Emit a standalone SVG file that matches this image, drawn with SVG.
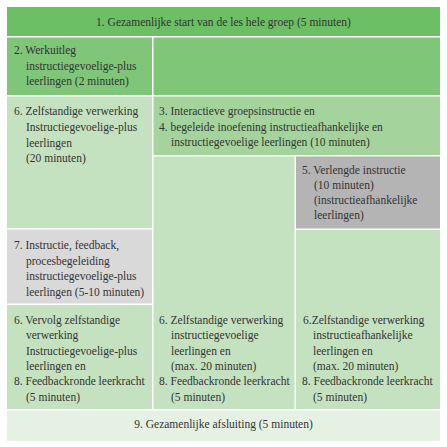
<svg xmlns="http://www.w3.org/2000/svg" width="447" height="447" viewBox="0 0 447 447">
<style>
text{font-family:"Liberation Serif","DejaVu Serif",serif;font-size:11.5px;fill:#333;}
.c{text-anchor:middle;}
.h{fill:#6cbf65;}
.g2{fill:#7fc679;}
.g3{fill:#a4d49c;}
.lt{fill:#c5e2c0;}
.gy5{fill:#b4b4b4;}
.gy7{fill:#d9d9da;}
.ft{fill:#e5f1e3;}
</style>
<rect width="447" height="447" fill="#fff"/>
<g id="n1"><rect class="h" x="7" y="7" width="433" height="29"/><text class="c" x="223.5" y="26">1. Gezamenlijke start van de les hele groep (5 minuten)</text></g>
<g id="n2"><rect class="g2" x="7" y="37.5" width="145" height="57.5"/>
<text x="14" y="54">2. Werkuitleg</text><text x="26" y="70">instructiegevoelige-plus</text><text x="26" y="85">leerlingen (2 minuten)</text></g>
<g id="n2b"><rect class="g2" x="153.5" y="37.5" width="286.5" height="57.5"/></g>
<g id="n6a"><rect class="lt" x="7" y="96.5" width="145" height="131.5"/>
<text x="14" y="115">6. Zelfstandige verwerking</text><text x="26" y="131">Instructiegevoelige-plus</text><text x="26" y="147">leerlingen</text><text x="26" y="162">(20 minuten)</text></g>
<g id="n34"><rect class="g3" x="153.5" y="96.5" width="286.5" height="58.5"/>
<text x="159" y="115">3. Interactieve groepsinstructie en</text><text x="159" y="131">4. begeleide inoefening instructieafhankelijke en</text><text x="171" y="146">instructiegevoelige leerlingen (10 minuten)</text></g>
<g id="n5"><rect class="gy5" x="296" y="156.5" width="144" height="72"/>
<text x="302" y="174">5. Verlengde instructie</text><text x="314" y="189">(10 minuten)</text><text x="314" y="204">(instructieafhankelijke</text><text x="314" y="219">leerlingen)</text></g>
<g id="n7"><rect class="gy7" x="7" y="229.5" width="145" height="74"/>
<text x="14" y="249">7. Instructie, feedback,</text><text x="26" y="265">procesbegeleiding</text><text x="26" y="280">instructiegevoelige-plus</text><text x="26" y="296">leerlingen (5-10 minuten)</text></g>
<g id="n6b"><rect class="lt" x="7" y="305" width="145" height="104"/>
<text x="14" y="324">6. Vervolg zelfstandige</text><text x="26" y="339">verwerking</text><text x="26" y="355">Instructiegevoelige-plus</text><text x="26" y="370">leerlingen en</text><text x="14" y="385">8. Feedbackronde leerkracht</text><text x="26" y="401">(5 minuten)</text></g>
<g id="n6c"><rect class="lt" x="153.5" y="156.5" width="141" height="252.5"/>
<text x="159" y="324">6. Zelfstandige verwerking</text><text x="171" y="339">instructiegevoelige</text><text x="171" y="355">leerlingen en</text><text x="171" y="370">(max. 20 minuten)</text><text x="159" y="385">8. Feedbackronde leerkracht</text><text x="171" y="401">(5 minuten)</text></g>
<g id="n6d"><rect class="lt" x="296" y="230" width="144" height="179"/>
<text x="303" y="324">6.Zelfstandige verwerking</text><text x="313" y="339">instructieafhankelijke</text><text x="313" y="355">leerlingen en</text><text x="313" y="370">(max. 20 minuten)</text><text x="302" y="385">8. Feedbackronde leerkracht</text><text x="313" y="401">(5 minuten)</text></g>
<g id="n9"><rect class="ft" x="7" y="410.5" width="433" height="30.5"/><text class="c" x="223.5" y="428">9. Gezamenlijke afsluiting (5 minuten)</text></g>
</svg>
